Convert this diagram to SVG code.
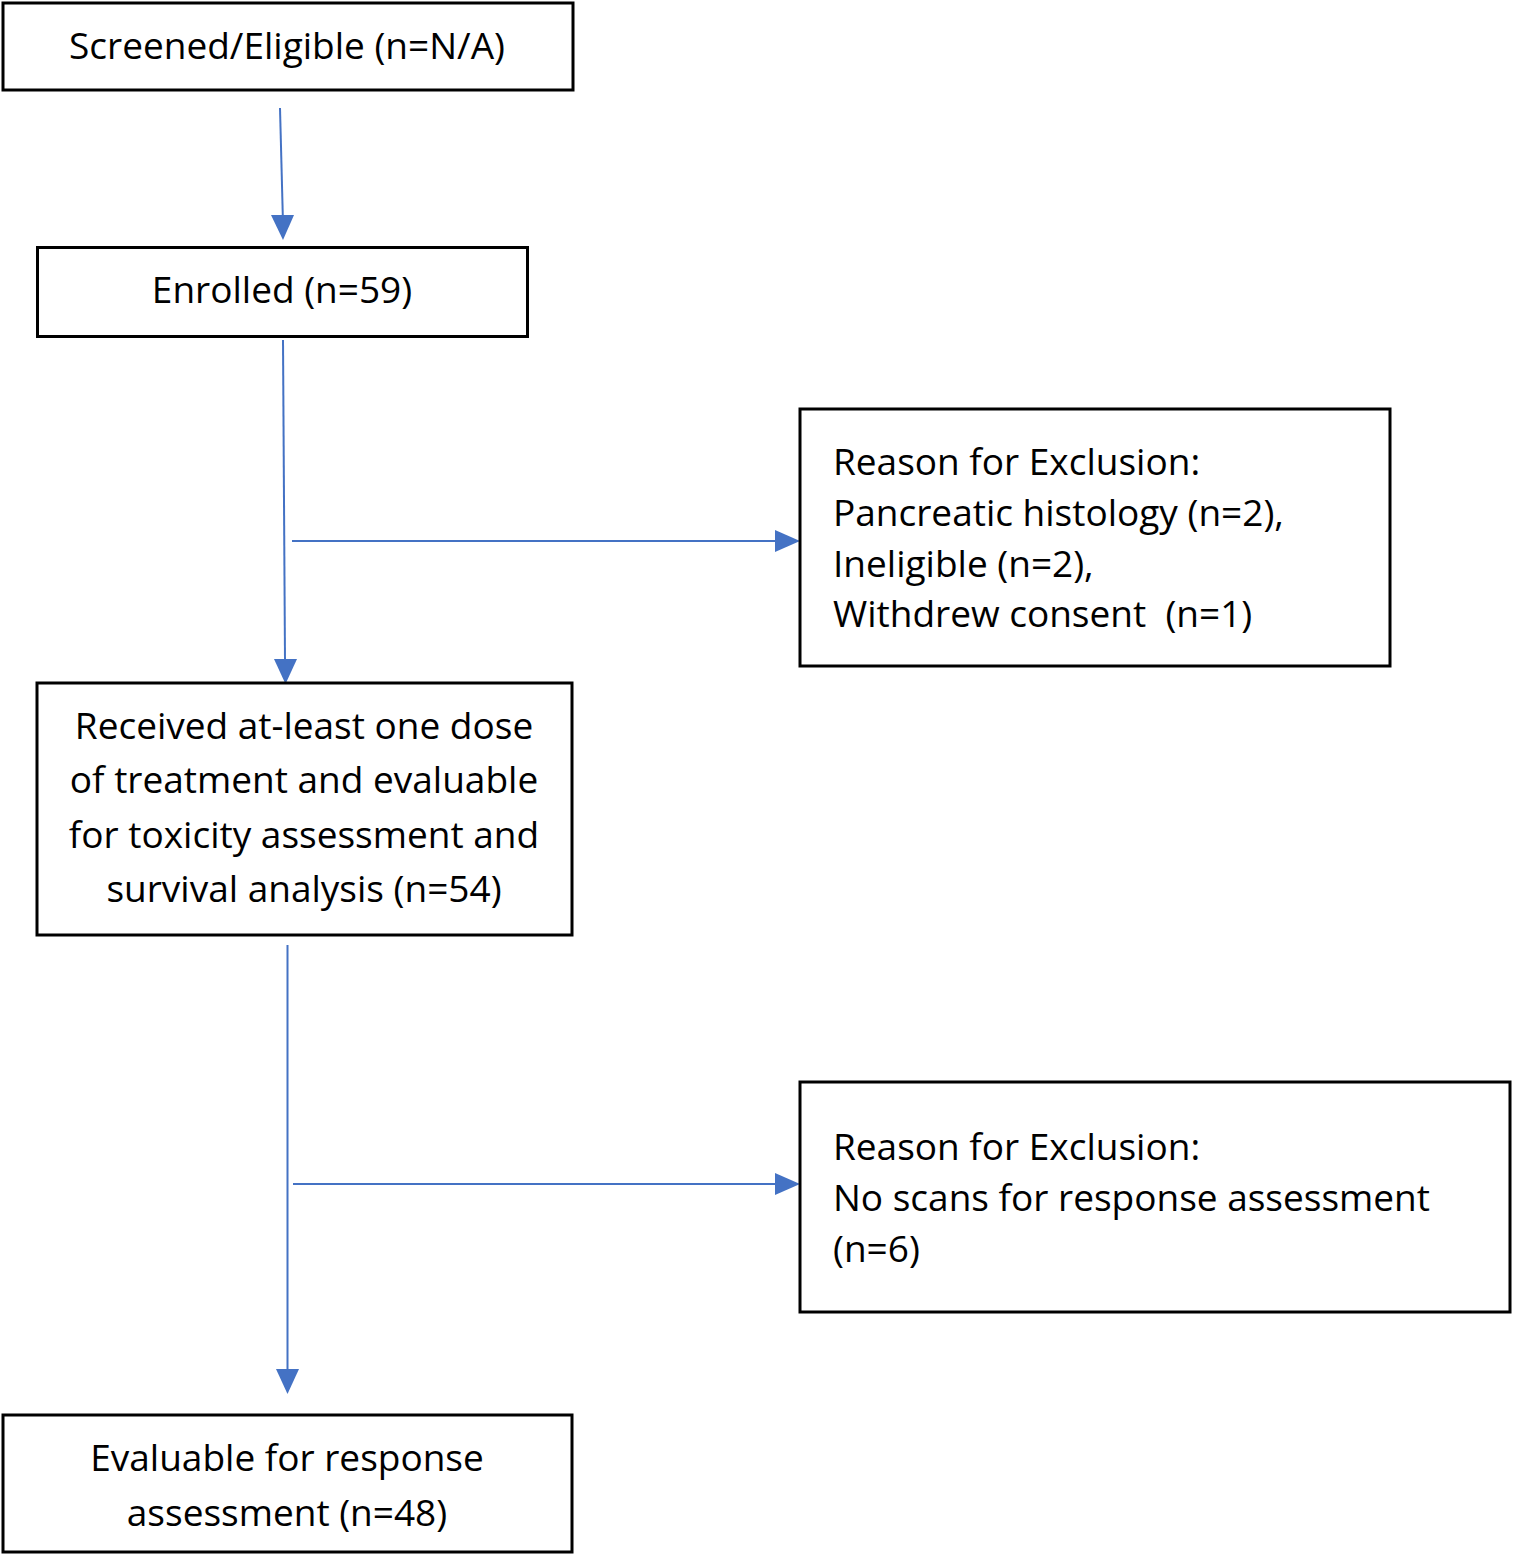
<svg xmlns="http://www.w3.org/2000/svg" width="1513" height="1555" viewBox="0 0 1513 1555">
<defs>
<style>
.box{fill:#fff;stroke:#000;stroke-width:3}
.t{font-family:"Open Sans","Noto Sans","Liberation Sans",sans-serif;font-size:37px;fill:#000}
.c{text-anchor:middle}
.conn{stroke:#4472C4;stroke-width:2;fill:none}
</style>
</defs>
<rect width="1513" height="1555" fill="#fff"/>
<g id="connectors">
<line class="conn" x1="280" y1="108" x2="282.8" y2="216"/>
<path d="M271,215 L294,215 L283,240 Z" fill="#4472C4"/>
<line class="conn" x1="283" y1="340" x2="285" y2="660"/>
<path d="M274,659 L297,659 L285.5,684 Z" fill="#4472C4"/>
<line class="conn" x1="292" y1="541" x2="776" y2="541"/>
<path d="M775,530 L800,541 L775,552 Z" fill="#4472C4"/>
<line class="conn" x1="287.5" y1="945" x2="287.5" y2="1370"/>
<path d="M276,1369 L299,1369 L287.5,1394 Z" fill="#4472C4"/>
<line class="conn" x1="293" y1="1184" x2="776" y2="1184"/>
<path d="M775,1173 L800,1184 L775,1195 Z" fill="#4472C4"/>
</g>
<g id="screened">
<rect class="box" x="3" y="3" width="570" height="87"/>
<text class="t c" x="287" y="59">Screened/Eligible (n=N/A)</text>
</g>
<g id="enrolled">
<rect class="box" x="37.5" y="247.5" width="490" height="89"/>
<text class="t c" x="282" y="303">Enrolled (n=59)</text>
</g>
<g id="exclusion1">
<rect class="box" x="800" y="409" width="590" height="257"/>
<text class="t" x="833" y="475">Reason for Exclusion:</text>
<text class="t" x="833" y="526">Pancreatic histology (n=2),</text>
<text class="t" x="833" y="577">Ineligible (n=2),</text>
<text class="t" x="833" y="627" xml:space="preserve">Withdrew consent  (n=1)</text>
</g>
<g id="treated">
<rect class="box" x="37" y="683" width="535" height="252"/>
<text class="t c" x="304" y="739">Received at-least one dose</text>
<text class="t c" x="304" y="793">of treatment and evaluable</text>
<text class="t c" x="304" y="848">for toxicity assessment and</text>
<text class="t c" x="304" y="902">survival analysis (n=54)</text>
</g>
<g id="exclusion2">
<rect class="box" x="800" y="1082" width="710" height="230"/>
<text class="t" x="833" y="1160">Reason for Exclusion:</text>
<text class="t" x="833" y="1211">No scans for response assessment</text>
<text class="t" x="833" y="1262">(n=6)</text>
</g>
<g id="evaluable">
<rect class="box" x="3" y="1415" width="569" height="137"/>
<text class="t c" x="287" y="1471">Evaluable for response</text>
<text class="t c" x="287" y="1526">assessment (n=48)</text>
</g>
</svg>
